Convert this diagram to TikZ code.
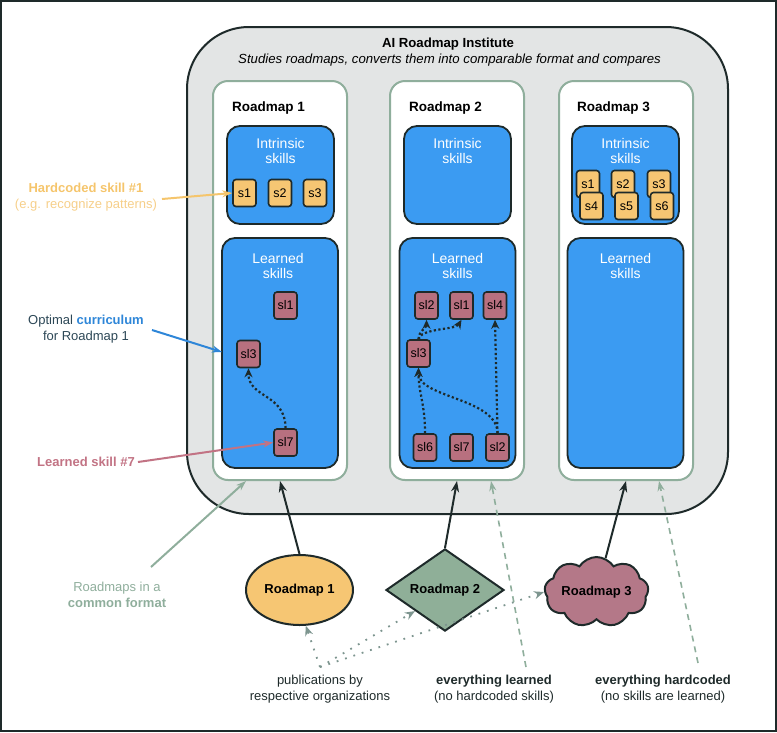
\documentclass[tikz,border=0pt]{standalone}
\usepackage{fontspec}
\setmainfont{Liberation Sans}
\usetikzlibrary{arrows.meta,shapes.geometric,shapes.symbols}
\definecolor{dark}{HTML}{1E2A2A}
\definecolor{instfill}{HTML}{E3E5E5}
\definecolor{sage}{HTML}{8FAE9C}
\definecolor{skyblue}{HTML}{3B9BF2}
\definecolor{sorange}{HTML}{F6C673}
\definecolor{mauve}{HTML}{B8707F}
\definecolor{lblorange}{HTML}{F5C56C}
\definecolor{lblorangeb}{HTML}{F6CF8A}
\definecolor{lblblue}{HTML}{2E86D8}
\definecolor{lblslate}{HTML}{2C4756}
\definecolor{lblmauve}{HTML}{C27384}
\definecolor{diafill}{HTML}{8FAF98}
\definecolor{cloudfill}{HTML}{B47888}
\definecolor{pubgray}{HTML}{7D958F}
\begin{document}
\begin{tikzpicture}[x=1pt,y=-1pt,
  txt/.style={font=\fontsize{13}{16}\selectfont, inner sep=0pt, align=center},
  inst/.style={draw=dark, line width=2pt, fill=instfill, rounded corners=62pt, minimum width=541pt, minimum height=487pt, inner sep=0pt},
  colbox/.style={draw=sage, line width=2pt, fill=white, rounded corners=15pt, minimum width=134pt, minimum height=399pt, inner sep=0pt},
  intbox/.style={draw=dark, line width=1.8pt, fill=skyblue, rounded corners=13pt, minimum width=107pt, minimum height=98pt, inner sep=0pt},
  lrnbox/.style={draw=dark, line width=1.8pt, fill=skyblue, rounded corners=13pt, minimum width=116pt, minimum height=230pt, inner sep=0pt},
  boxlbl/.style={font=\fontsize{14}{15}\selectfont, text=white, align=center, inner sep=0pt},
  hdr/.style={font=\fontsize{13.5}{16}\selectfont\bfseries, anchor=west, inner sep=0pt},
  sk/.style={draw=dark, line width=1.6pt, rounded corners=3pt, minimum width=23pt, minimum height=27pt, inner sep=0pt, font=\fontsize{12.5}{14}\selectfont},
  hs/.style={sk, fill=sorange},
  ls/.style={sk, fill=mauve},
  dotarrow/.style={draw=dark, line width=2.2pt, dash pattern=on 2.2pt off 2.4pt, -{Stealth[length=9pt,width=8pt]}},
  feed/.style={draw=dark, line width=2pt, -{Stealth[length=11pt,width=8pt]}},
  sagearrow/.style={draw=sage, line width=2pt, -{Stealth[length=10pt,width=7pt]}},
  sagedash/.style={draw=sage, line width=1.6pt, dash pattern=on 6pt off 5pt, -{Stealth[length=10pt,width=7pt,open]}},
  pubarrow/.style={draw=pubgray, line width=1.8pt, dash pattern=on 1.8pt off 7pt, -{Stealth[length=10pt,width=8pt]}},
  rmshape/.style={draw=dark, line width=2pt, inner sep=0pt, font=\fontsize{13}{16}\selectfont\bfseries}
]
\useasboundingbox (0,0) rectangle (777,732);
\draw[dark, line width=2pt] (1,1) rectangle (776,731);

% institute
\node[inst] (inst) at (457.5,270.5) {};
\node[txt, font=\fontsize{13.2}{16}\selectfont\bfseries] (title) at (448,44) {AI Roadmap Institute};
\node[txt, font=\fontsize{13.2}{16}\selectfont\itshape] (sub) at (449.5,60) {Studies roadmaps, converts them into comparable format and compares};

% columns
\node[colbox] (col1) at (280,280.5) {};
\node[colbox] (col2) at (457,280.5) {};
\node[colbox] (col3) at (626,280.5) {};
\node[hdr] (h1) at (232,108) {Roadmap 1};
\node[hdr] (h2) at (409,108) {Roadmap 2};
\node[hdr] (h3) at (577,108) {Roadmap 3};

\node[intbox] (i1) at (280.5,175) {};
\node[intbox] (i2) at (457.5,175) {};
\node[intbox] (i3) at (625.5,175) {};
\node[boxlbl] (il1) at (280.5,151) {Intrinsic\\skills};
\node[boxlbl] (il2) at (457.5,151) {Intrinsic\\skills};
\node[boxlbl] (il3) at (625.5,151) {Intrinsic\\skills};

\node[lrnbox] (l1) at (280,353) {};
\node[lrnbox] (l2) at (457.5,353) {};
\node[lrnbox] (l3) at (625.5,353) {};
\node[boxlbl] (ll1) at (278,266) {Learned\\skills};
\node[boxlbl] (ll2) at (457.5,266) {Learned\\skills};
\node[boxlbl] (ll3) at (625.5,266) {Learned\\skills};

% hardcoded skills
\node[hs] (a1) at (244.5,193) {s1};
\node[hs] (a2) at (280,193) {s2};
\node[hs] (a3) at (315,193) {s3};
\node[hs] (c1) at (588,184) {s1};
\node[hs] (c2) at (623,184) {s2};
\node[hs] (c3) at (659,184) {s3};
\node[hs] (c4) at (591.5,206) {s4};
\node[hs] (c5) at (626.5,206) {s5};
\node[hs] (c6) at (662,206) {s6};

% learned skills
\node[ls] (q1) at (285.5,305.5) {sl1};
\node[ls] (q3) at (248.5,354) {sl3};
\node[ls] (q7) at (285.5,442.5) {sl7};
\draw[dotarrow] (q7.north) .. controls +(0,-35) and +(0,30) .. (q3.south);

\node[ls] (b2) at (426.5,305.5) {sl2};
\node[ls] (b1) at (461.5,305.5) {sl1};
\node[ls] (b4) at (495,305.5) {sl4};
\node[ls] (b3) at (418.5,353.5) {sl3};
\node[ls] (b6) at (425,447.5) {sl6};
\node[ls] (b7) at (461.5,447.5) {sl7};
\node[ls] (b8) at (497.5,447.5) {sl2};
\draw[dotarrow] (b3.north) .. controls +(0,-8) and +(0,8) .. (b2.south);
\draw[dotarrow] (b3.north) .. controls +(2,-11) and +(-6,10) .. (b1.south);
\draw[dotarrow] (b6.north) .. controls +(0,-30) and +(0,25) .. (b3.south);
\draw[dotarrow] (b8.north) .. controls +(0,-35) and +(0,30) .. (b3.south);
\draw[dotarrow] (b8.north) -- (b4.south);

% left annotations
\node[txt] (lab1) at (86,197) {\textcolor{lblorange}{\bfseries Hardcoded skill \#1}\\\textcolor{lblorangeb}{(e.g. recognize patterns)}};
\coordinate (lab1a) at (162,199);
\draw[draw=lblorange, line width=2pt, -{Stealth[length=10pt,width=7pt]}] (lab1a) -- (a1.west);

\node[txt, text=lblslate] (lab2) at (86,329) {Optimal \textcolor{lblblue}{\bfseries curriculum}\\for Roadmap 1};
\coordinate (lab2a) at (152,330);
\coordinate (lab2b) at (222,352);
\draw[draw=lblblue, line width=2pt, -{Stealth[length=10pt,width=7pt]}] (lab2a) -- (lab2b);

\node[txt, text=lblmauve, font=\fontsize{13}{16}\selectfont\bfseries] (lab3) at (86,462) {Learned skill \#7};
\coordinate (lab3a) at (138,462);
\draw[draw=lblmauve, line width=2pt, -{Stealth[length=10pt,width=7pt]}] (lab3a) -- (q7.west);

\node[txt, text=sage] (lab4) at (117,595) {Roadmaps in a\\\textbf{common format}};
\coordinate (lab4a) at (151,567);
\coordinate (lab4b) at (246,481);
\draw[sagearrow] (lab4a) -- (lab4b);

% roadmap shapes
\node[rmshape, ellipse, fill=sorange, minimum width=107pt, minimum height=70pt] (r1) at (299.5,590) {Roadmap 1};
\node[rmshape, diamond, fill=diafill, minimum width=118pt, minimum height=80pt] (r2) at (445,590) {Roadmap 2};
\node[draw=dark, line width=2pt, inner sep=0pt, cloud, cloud puffs=9, cloud puff arc=115, fill=cloudfill, minimum width=104pt, minimum height=70pt] (r3) at (596.5,592) {};
\node[txt, font=\fontsize{13}{16}\selectfont\bfseries] (r3t) at (r3.center) {Roadmap 3};

\draw[feed] (r1.north) -- (col1.south);
\draw[feed] (r2.north) -- (col2.south);
\draw[feed] (r3.75) -- (col3.south);

% bottom labels
\node[txt, text=dark] (pub) at (320,689) {publications by\\respective organizations};
\node[txt, text=dark] (evl) at (494,689) {\textbf{everything learned}\\(no hardcoded skills)};
\node[txt, text=dark] (evh) at (663,689) {\textbf{everything hardcoded}\\(no skills are learned)};

\coordinate (pubs) at (320,667);
\draw[pubarrow] (pubs) -- (r1.280);
\draw[pubarrow] (pubs) -- (r2.south west);
\draw[pubarrow] (pubs) -- (r3.west);

\coordinate (evls) at (526,667);
\coordinate (evlt) at (491,481);
\coordinate (evhs) at (698,663);
\coordinate (evht) at (659,481);
\draw[sagedash] (evls) -- (evlt);
\draw[sagedash] (evhs) -- (evht);
\end{tikzpicture}
\end{document}
